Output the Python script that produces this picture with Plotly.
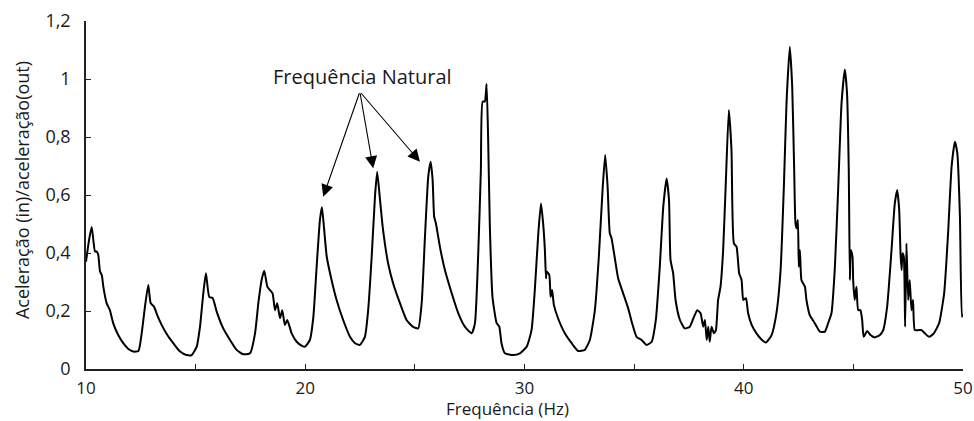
import plotly.graph_objects as go

freq = [10.00, 10.14, 10.26, 10.41, 10.49, 10.56, 10.64, 10.72, 10.79, 10.94, 11.09, 11.24, 11.47, 11.70, 11.93,
        12.16, 12.39, 12.54, 12.69, 12.84, 12.95, 13.10, 13.25, 13.45, 13.71, 13.98, 14.29, 14.59, 14.82,
        15.05, 15.20, 15.35, 15.47, 15.62, 15.78, 15.96, 16.26, 16.57, 16.87, 17.17, 17.48, 17.71, 17.86,
        18.01, 18.13, 18.27, 18.39, 18.51, 18.62, 18.72, 18.85, 18.95, 19.07, 19.18, 19.38, 19.61, 19.85,
        19.99, 20.21, 20.37, 20.52, 20.67, 20.76, 20.85, 20.98, 21.20, 21.43, 21.73, 22.04, 22.27, 22.49,
        22.72, 22.87, 23.03, 23.18, 23.28, 23.41, 23.53, 23.63, 23.78, 24.01, 24.32, 24.62, 24.92, 25.15,
        25.31, 25.46, 25.61, 25.72, 25.81, 25.88, 25.96, 26.14, 26.37, 26.68, 26.98, 27.28, 27.59, 27.74,
        27.89, 28.01, 28.09, 28.19, 28.27, 28.34, 28.42, 28.54, 28.73, 28.85, 28.95, 29.11, 29.49, 29.79,
        30.10, 30.32, 30.47, 30.63, 30.75, 30.85, 30.93, 30.98, 31.01, 31.13, 31.19, 31.26, 31.34, 31.53,
        31.84, 32.15, 32.45, 32.75, 32.98, 33.21, 33.39, 33.56, 33.68, 33.79, 33.89, 33.97, 34.12, 34.27,
        34.50, 34.73, 34.90, 35.11, 35.34, 35.57, 35.80, 35.99, 36.17, 36.33, 36.48, 36.59, 36.66, 36.78,
        36.89, 37.09, 37.31, 37.54, 37.73, 37.88, 38.03, 38.15, 38.23, 38.31, 38.38, 38.45, 38.53, 38.64,
        38.73, 38.83, 38.94, 39.06, 39.18, 39.32, 39.44, 39.55, 39.67, 39.79, 39.90, 39.98, 40.10, 40.20,
        40.36, 40.58, 40.81, 41.01, 41.27, 41.49, 41.68, 41.83, 41.95, 42.10, 42.21, 42.30, 42.36, 42.41,
        42.47, 42.51, 42.56, 42.63, 42.71, 42.79, 42.86, 43.01, 43.24, 43.47, 43.70, 43.85, 44.00, 44.15,
        44.31, 44.46, 44.61, 44.71, 44.79, 44.84, 44.88, 44.96, 44.99, 45.06, 45.14, 45.22, 45.32, 45.40,
        45.47, 45.63, 45.78, 45.98, 46.21, 46.36, 46.54, 46.74, 46.89, 47.00, 47.09, 47.15, 47.20, 47.24,
        47.30, 47.36, 47.42, 47.50, 47.57, 47.65, 47.72, 47.80, 47.95, 48.11, 48.26, 48.46, 48.67, 48.91,
        49.14, 49.32, 49.48, 49.63, 49.74, 49.86, 49.95, 50.00]

ratio = [0.370, 0.445, 0.490, 0.405, 0.405, 0.393, 0.336, 0.324, 0.284, 0.227, 0.203, 0.158, 0.117, 0.089, 0.069,
         0.060, 0.062, 0.123, 0.215, 0.290, 0.227, 0.215, 0.186, 0.152, 0.117, 0.089, 0.060, 0.048, 0.048,
         0.077, 0.146, 0.261, 0.330, 0.249, 0.244, 0.198, 0.140, 0.100, 0.066, 0.051, 0.054, 0.123, 0.227,
         0.307, 0.339, 0.284, 0.272, 0.261, 0.203, 0.227, 0.175, 0.203, 0.152, 0.169, 0.123, 0.094, 0.080,
         0.077, 0.100, 0.180, 0.353, 0.514, 0.558, 0.491, 0.387, 0.307, 0.238, 0.169, 0.111, 0.089, 0.083,
         0.111, 0.203, 0.387, 0.594, 0.680, 0.583, 0.491, 0.433, 0.364, 0.295, 0.227, 0.169, 0.145, 0.140,
         0.227, 0.456, 0.663, 0.715, 0.652, 0.525, 0.502, 0.422, 0.341, 0.261, 0.192, 0.146, 0.123, 0.158,
         0.399, 0.686, 0.922, 0.922, 0.983, 0.801, 0.491, 0.249, 0.158, 0.146, 0.089, 0.054, 0.048, 0.054,
         0.077, 0.134, 0.272, 0.468, 0.571, 0.502, 0.410, 0.313, 0.336, 0.324, 0.249, 0.272, 0.221, 0.175,
         0.123, 0.089, 0.062, 0.066, 0.100, 0.203, 0.387, 0.617, 0.738, 0.629, 0.468, 0.451, 0.382, 0.313,
         0.261, 0.209, 0.160, 0.111, 0.100, 0.083, 0.094, 0.169, 0.353, 0.560, 0.657, 0.583, 0.376, 0.330,
         0.238, 0.169, 0.140, 0.146, 0.180, 0.203, 0.192, 0.146, 0.169, 0.100, 0.146, 0.094, 0.146, 0.123,
         0.134, 0.238, 0.284, 0.410, 0.640, 0.893, 0.755, 0.433, 0.422, 0.330, 0.307, 0.238, 0.244, 0.192,
         0.152, 0.123, 0.102, 0.091, 0.117, 0.192, 0.341, 0.629, 0.916, 1.111, 0.974, 0.686, 0.502, 0.485,
         0.514, 0.353, 0.410, 0.307, 0.295, 0.284, 0.238, 0.186, 0.158, 0.129, 0.129, 0.158, 0.192, 0.341,
         0.629, 0.916, 1.033, 0.951, 0.686, 0.307, 0.410, 0.387, 0.307, 0.238, 0.284, 0.203, 0.203, 0.169,
         0.111, 0.131, 0.117, 0.109, 0.117, 0.134, 0.215, 0.410, 0.571, 0.617, 0.548, 0.399, 0.341, 0.399,
         0.387, 0.146, 0.433, 0.238, 0.307, 0.203, 0.238, 0.134, 0.134, 0.134, 0.123, 0.111, 0.123, 0.158,
         0.261, 0.468, 0.698, 0.784, 0.744, 0.525, 0.180, 0.190]

x_ticks = [10, 20, 30, 40, 50]
x_tick_labels = ["10", "20", "30", "40", "50"]
y_ticks = [0, 0.2, 0.4, 0.6, 0.8, 1.0, 1.2]
y_tick_labels = ["0", "0,2", "0,4", "0,6", "0,8", "1", "1,2"]

label_text = "Frequência Natural"
label_pos = (22.63, 1.01)
arrow_tail = (22.49, 0.956)
arrow_heads = [(20.82, 0.594), (23.10, 0.692), (25.23, 0.715)]

FONT = "Open Sans"
TXT = "#1a1a1a"

fig = go.Figure()
fig.add_trace(go.Scatter(x=freq, y=ratio, mode="lines",
                         line=dict(color="black", width=2, shape="spline", smoothing=0.5),
                         showlegend=False, hoverinfo="skip"))

for hx, hy in arrow_heads:
    fig.add_annotation(x=hx, y=hy, ax=arrow_tail[0], ay=arrow_tail[1],
                       xref="x", yref="y", axref="x", ayref="y",
                       text="", showarrow=True, arrowhead=2, arrowsize=2.2,
                       arrowwidth=1.1, arrowcolor="black")

fig.add_annotation(x=label_pos[0], y=label_pos[1], xref="x", yref="y",
                   text=label_text, showarrow=False,
                   font=dict(family=FONT, size=20, color=TXT))

fig.add_annotation(x=0.481, y=-0.113, xref="paper", yref="paper",
                   text="Frequência (Hz)", showarrow=False, yanchor="middle",
                   borderpad=0,
                   font=dict(family=FONT, size=17, color=TXT))

fig.add_annotation(x=-0.073, y=0.514, xref="paper", yref="paper",
                   text="Aceleração (in)/aceleração(out)", showarrow=False,
                   textangle=-90, xanchor="center", yanchor="middle",
                   font=dict(family=FONT, size=18, color=TXT))

fig.update_layout(
    width=974, height=421,
    margin=dict(l=86, r=11, t=21, b=52, autoexpand=False),
    paper_bgcolor="white", plot_bgcolor="white",
    font=dict(family=FONT, size=18, color=TXT),
    xaxis=dict(range=[10, 50], tickvals=x_ticks, ticktext=x_tick_labels,
               showgrid=False, zeroline=False, showline=True, linecolor="#222",
               linewidth=1.5, ticks="inside", ticklen=5, tickcolor="#222",
               tickwidth=1.2, automargin=False, tickfont=dict(size=17),
               minor=dict(dtick=5, ticks="inside", ticklen=5, tickcolor="#222", tickwidth=1.2),
               ticklabelstandoff=3),
    yaxis=dict(range=[0, 1.2], tickvals=y_ticks, ticktext=y_tick_labels,
               showgrid=False, zeroline=False, showline=True, linecolor="#222",
               linewidth=1.5, ticks="inside", ticklen=5, tickcolor="#222",
               tickwidth=1.2, ticklabelstandoff=10, automargin=False),
)

fig.write_html("out.html", config={"displayModeBar": False},
               post_script="document.body.style.margin='0';document.body.style.overflow='hidden';")
